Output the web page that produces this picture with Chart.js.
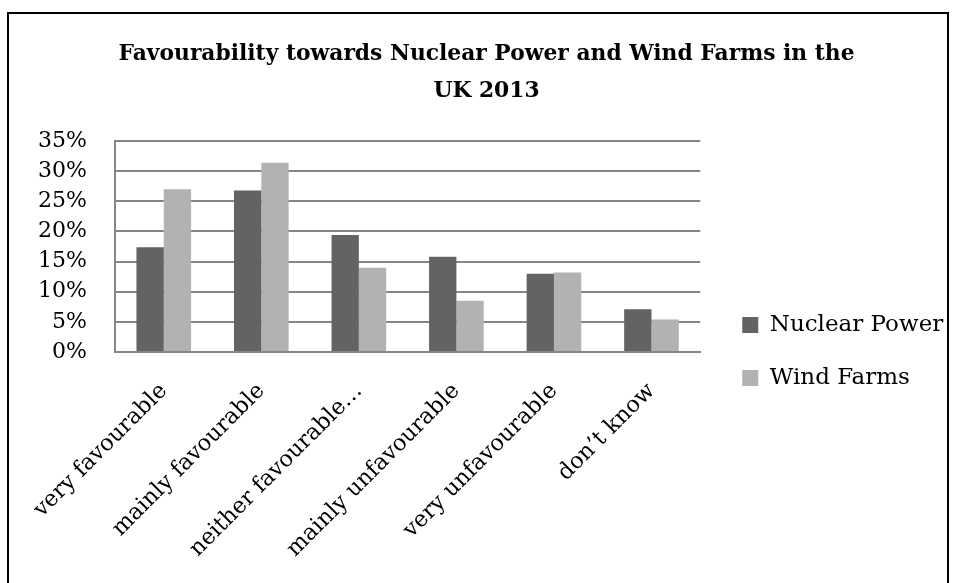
<!DOCTYPE html>
<html lang="en">
<head>
<meta charset="UTF-8">
<title>Favourability towards Nuclear Power and Wind Farms in the UK 2013</title>
<script src="https://cdn.jsdelivr.net/npm/chart.js@4"></script>
<style>
  html, body { margin: 0; padding: 0; background: #fff; }
  #frame {
    position: absolute; left: 7px; top: 12px; width: 942px; height: 590px;
    border: 2px solid #000; box-sizing: border-box; background: #fff;
  }
  #wrap { position: absolute; left: 0; top: 0; width: 938px; height: 571px; }
</style>
</head>
<body>
<div id="frame"><div id="wrap"><canvas id="chart"></canvas></div></div>
<script>
  // donnees
  const categories = ['very favourable', 'mainly favourable', 'neither favourable\u2026',
    'mainly unfavourable', 'very unfavourable', 'don\u2019t know'];
  const nuclearPower = [17.4, 26.8, 19.4, 15.8, 13.0, 7.1];
  const windFarms = [27.0, 31.4, 14.0, 8.5, 13.2, 5.4];
  const yTicks = [0, 5, 10, 15, 20, 25, 30, 35];

  const serif = "'DejaVu Serif', serif";

  // decale la legende (plus d'espace a gauche, plus bas)
  const legendShift = {
    id: 'legendShift',
    afterInit(chart) {
      const fit = chart.legend.fit;
      chart.legend.fit = function () { fit.call(this); this.width += 15; };
    },
    afterLayout(chart) {
      chart.legend.left += 12;
      chart.legend.top += 52;
      chart.legend.bottom += 52;
    }
  };

  new Chart(document.getElementById('chart'), {
    type: 'bar',
    data: {
      labels: categories,
      datasets: [
        { label: 'Nuclear Power', data: nuclearPower, backgroundColor: '#636363' },
        { label: 'Wind Farms', data: windFarms, backgroundColor: '#b2b2b2' }
      ]
    },
    plugins: [legendShift],
    options: {
      responsive: true,
      maintainAspectRatio: false,
      animation: false,
      datasets: { bar: { categoryPercentage: 0.56, barPercentage: 1 } },
      layout: { padding: { left: 20, right: 3, top: 0, bottom: 0 } },
      plugins: {
        title: {
          display: true,
          text: ['Favourability towards Nuclear Power and Wind Farms in the', 'UK 2013'],
          color: '#000',
          font: { family: serif, size: 21.8, weight: 'bold', lineHeight: 1.7 },
          padding: { top: 21.5, bottom: 31.5 }
        },
        legend: {
          position: 'right',
          labels: {
            color: '#000',
            font: { family: serif, size: 23 },
            boxWidth: 16, boxHeight: 16,
            padding: 30
          }
        },
        tooltip: { enabled: false }
      },
      scales: {
        x: {
          afterFit: s => { s.height = 233; s.paddingLeft = 0; s.paddingRight = 0; },
          grid: { display: false, drawTicks: false },
          border: { color: '#868686', width: 2 },
          ticks: {
            color: '#000', font: { family: serif, size: 22.5 },
            minRotation: 45, maxRotation: 45, autoSkip: false, padding: 26
          }
        },
        y: {
          min: 0, max: 35,
          afterBuildTicks: s => { s.ticks = yTicks.map(v => ({ value: v })); },
          afterFit: s => { s.width = 86; },
          grid: { color: '#868686', lineWidth: 2, drawTicks: false },
          border: { color: '#868686', width: 2 },
          ticks: {
            color: '#000', font: { family: serif, size: 22 }, padding: 28,
            callback: v => v + '%'
          }
        }
      }
    }
  });
</script>
</body>
</html>
